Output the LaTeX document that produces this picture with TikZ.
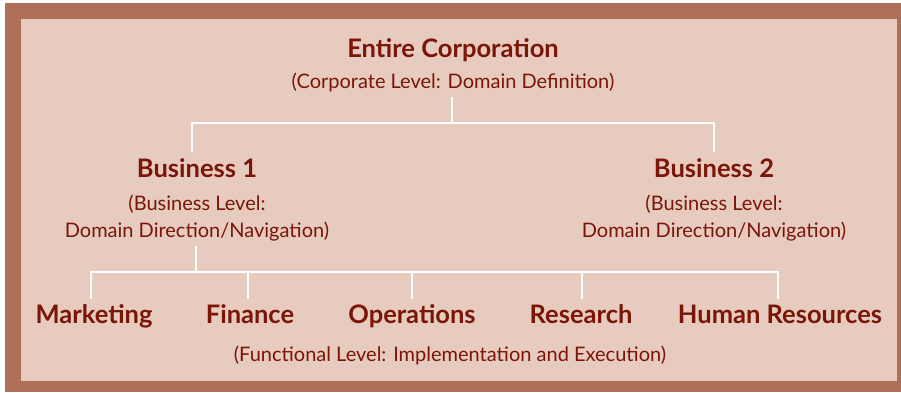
\documentclass[tikz,border=0pt]{standalone}
\usepackage{fontspec}
\setmainfont{Lato}
\definecolor{frame}{HTML}{B07058}
\definecolor{panel}{HTML}{E6CBBE}
\definecolor{ink}{HTML}{7A1508}
\begin{document}
\begin{tikzpicture}[x=1pt,y=-1pt]
\tikzset{title/.style={anchor=base,text=ink,inner sep=0pt,font=\fontsize{25.5}{29}\selectfont\bfseries},
	sub/.style={anchor=base,text=ink,inner sep=0pt,font=\fontsize{20}{24}\selectfont},
	conn/.style={draw=white,line width=2pt}}
\useasboundingbox (0,0) rectangle (901,392);
\fill[frame] (5,3) rectangle (901,392);
\fill[panel] (21,19) rectangle (897,381);
% corporate level
\node[title] (corp) at (453,57) {Entire Corporation};
\node[sub] (corplvl) at (453,88) {(Corporate Level: Domain Definition)};
% business level
\node[title] (bus1) at (197,177) {Business 1};
\node[sub] (bus1a) at (197,210) {(Business Level:};
\node[sub] (bus1b) at (197,237) {Domain Direction/Navigation)};
\node[title] (bus2) at (714,177) {Business 2};
\node[sub] (bus2a) at (714,210) {(Business Level:};
\node[sub] (bus2b) at (714,237) {Domain Direction/Navigation)};
% functional level
\node[title] (mkt) at (94,323) {Marketing};
\node[title] (fin) at (250,323) {Finance};
\node[title] (ops) at (412,323) {Operations};
\node[title] (res) at (581,323) {Research};
\node[title] (hr) at (780,323) {Human Resources};
\node[sub] (funlvl) at (450,361) {(Functional Level: Implementation and Execution)};
% connectors
\coordinate (c0) at (452,97);
\coordinate (c1) at (452,123);
\coordinate (t1) at (192,152);
\coordinate (t2) at (714,152);
\draw[conn] (c0) -- (c1);
\draw[conn] (t1) |- (c1) -| (t2);
\coordinate (b0) at (196,246);
\coordinate (b1) at (196,272);
\draw[conn] (b0) -- (b1);
\foreach \x/\n in {91/m,248/f,412/o,582/r,778/h}
	\coordinate (\n) at (\x,299);
\draw[conn] (m) |- (b1) -| (h);
\foreach \n in {f,o,r}
	\draw[conn] (\n) -- (\n |- b1);
\end{tikzpicture}
\end{document}
